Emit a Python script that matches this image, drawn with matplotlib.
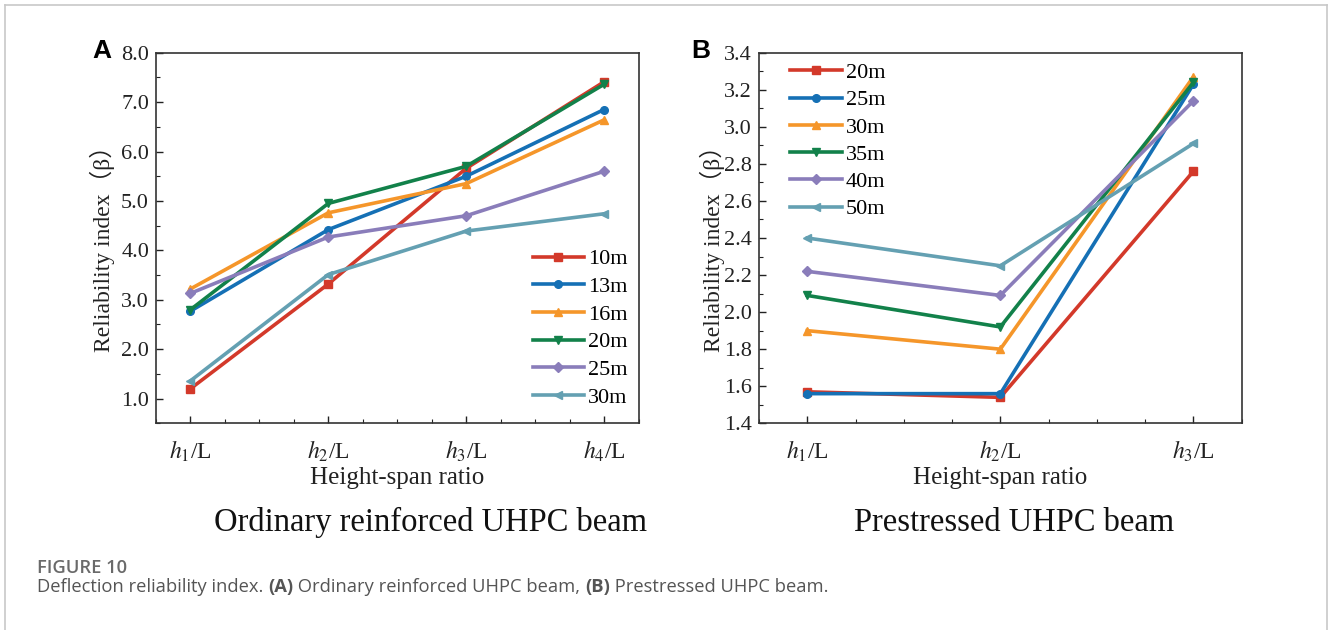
import matplotlib
matplotlib.use('agg')
import matplotlib.pyplot as plt
from matplotlib.ticker import MultipleLocator
from matplotlib.lines import Line2D

# ---- data ----
ratios_a = [r'$h_1$/L', r'$h_2$/L', r'$h_3$/L', r'$h_4$/L']
spans_a = ['10m', '13m', '16m', '20m', '25m', '30m']
beta_a_10 = [1.20, 3.32, 5.66, 7.41]
beta_a_13 = [2.77, 4.42, 5.50, 6.85]
beta_a_16 = [3.22, 4.76, 5.35, 6.64]
beta_a_20 = [2.80, 4.95, 5.70, 7.36]
beta_a_25 = [3.13, 4.27, 4.70, 5.60]
beta_a_30 = [1.36, 3.51, 4.39, 4.74]

ratios_b = [r'$h_1$/L', r'$h_2$/L', r'$h_3$/L']
spans_b = ['20m', '25m', '30m', '35m', '40m', '50m']
beta_b_20 = [1.57, 1.54, 2.76]
beta_b_25 = [1.56, 1.56, 3.23]
beta_b_30 = [1.90, 1.80, 3.27]
beta_b_35 = [2.09, 1.92, 3.24]
beta_b_40 = [2.22, 2.09, 3.14]
beta_b_50 = [2.40, 2.25, 2.91]

colors = ['#D3392A', '#1570B5', '#F5962A', '#12814A', '#8A7DBA', '#64A0B2']
markers = ['s', 'o', '^', 'v', 'D', '<']

serif = ['Liberation Serif', 'Noto Sans CJK SC']
plt.rcParams['font.family'] = serif
plt.rcParams['mathtext.fontset'] = 'stix'

fig = plt.figure(figsize=(13.28, 6.30), dpi=100)

# light frame around the figure (top, left, right)
fx0, fx1, fy1 = 4.5 / 1328, 1326.5 / 1328, 1 - 4.5 / 630
fig.add_artist(Line2D([fx0, fx0], [0, fy1], color='#c8c8c8', lw=1.2))
fig.add_artist(Line2D([fx0, fx1], [fy1, fy1], color='#c8c8c8', lw=1.2))
fig.add_artist(Line2D([fx1, fx1], [0, fy1], color='#c8c8c8', lw=1.2))

ax_a = fig.add_axes([156 / 1328, 1 - 423.3 / 630, 482.5 / 1328, 370.6 / 630])
ax_b = fig.add_axes([759 / 1328, 1 - 423.3 / 630, 482.7 / 1328, 370.6 / 630])


def style_axes(ax, ratios, ymaj, ymin):
    x = list(range(1, len(ratios) + 1))
    ax.set_xticks(x)
    ax.set_xticklabels(ratios)
    ax.xaxis.set_minor_locator(MultipleLocator(0.25))
    ax.yaxis.set_major_locator(MultipleLocator(ymaj))
    ax.yaxis.set_minor_locator(MultipleLocator(ymin))
    ax.yaxis.set_major_formatter(lambda v, p: f'{v:.1f}')
    ax.tick_params(which='both', direction='in', top=False, right=False, colors='#222222')
    ax.tick_params(which='major', length=5, width=1)
    ax.tick_params(which='minor', length=3, width=0.8)
    ax.tick_params(axis='y', labelsize=16, pad=5, labelfontfamily='Liberation Serif')
    ax.tick_params(axis='x', labelsize=17, pad=11)
    for sp in ax.spines.values():
        sp.set_color('#333333')
        sp.set_linewidth(1.2)
    ax.set_xlabel('Height-span ratio', fontsize=18, color='#222222', labelpad=2)
    ax.set_ylabel('Reliability index（β）', fontsize=17, color='#222222')
    return x


xa = style_axes(ax_a, ratios_a, 1.0, 0.5)
series_a = [beta_a_10, beta_a_13, beta_a_16, beta_a_20, beta_a_25, beta_a_30]
for vals, lab, c, m in zip(series_a, spans_a, colors, markers):
    ax_a.plot(xa, vals, color=c, marker=m, ms=5.5, lw=2.6, label=lab)
ax_a.set_xlim(0.75, 4.25)
ax_a.set_ylim(0.5, 8.0)
ax_a.yaxis.set_label_coords(-0.085, 0.485)
ax_a.legend(loc='lower right', frameon=False, prop={'size': 16},
            handlelength=2.3, handletextpad=0.2, labelspacing=0.32,
            borderaxespad=0.3, bbox_to_anchor=(1.01, 0.0))

xb = style_axes(ax_b, ratios_b, 0.2, 0.1)
series_b = [beta_b_20, beta_b_25, beta_b_30, beta_b_35, beta_b_40, beta_b_50]
for vals, lab, c, m in zip(series_b, spans_b, colors, markers):
    ax_b.plot(xb, vals, color=c, marker=m, ms=5.5, lw=2.6, label=lab)
ax_b.set_xlim(0.75, 3.25)
ax_b.set_ylim(1.4, 3.4)
ax_b.yaxis.set_label_coords(-0.07, 0.485)
ax_b.legend(loc='upper left', frameon=False, prop={'size': 16},
            handlelength=2.3, handletextpad=0.2, labelspacing=0.3,
            borderaxespad=0.3, bbox_to_anchor=(0.033, 1.015))

# make sure tick numbers are in the serif face
for ax in (ax_a, ax_b):
    for lab in ax.get_yticklabels():
        lab.set_fontfamily('Liberation Serif')

# panel letters
fig.text(92 / 1328, 1 - 51 / 630, 'A', family='Liberation Sans', weight='bold', fontsize=19, va='center')
fig.text(691 / 1328, 1 - 51 / 630, 'B', family='Liberation Sans', weight='bold', fontsize=19, va='center')

# panel titles
fig.text(431 / 1328, 1 - 531 / 630, 'Ordinary reinforced UHPC beam', fontsize=23.5,
         ha='center', va='baseline', color='#111111')
fig.text(1014 / 1328, 1 - 531 / 630, 'Prestressed UHPC beam', fontsize=23.5,
         ha='center', va='baseline', color='#111111')

# caption
fig.text(37 / 1328, 1 - 568 / 630, 'FIGURE 10', family='Open Sans', weight='semibold', fontsize=13.2,
         color='#6a6a6a', va='center')
pieces = [('Deflection reliability index. ', 'normal'), ('(A)', 'bold'),
          (' Ordinary reinforced UHPC beam, ', 'normal'), ('(B)', 'bold'),
          (' Prestressed UHPC beam.', 'normal')]
fig.canvas.draw()
renderer = fig.canvas.get_renderer()
xpos = 37 / 1328
for txt, w in pieces:
    t = fig.text(xpos, 1 - 587 / 630, txt, family='Open Sans', weight=w, fontsize=13.2,
                 color='#555555', va='center')
    bb = t.get_window_extent(renderer)
    xpos += bb.width / 1328

fig.savefig('out.png', dpi=100)
